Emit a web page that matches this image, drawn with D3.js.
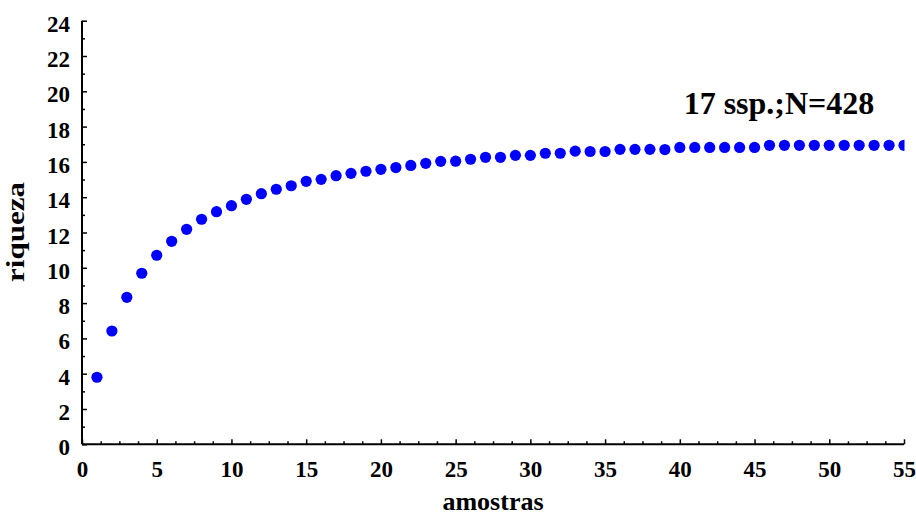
<!DOCTYPE html>
<html>
<head>
<meta charset="utf-8">
<script src="https://cdn.jsdelivr.net/npm/d3@7"></script>
<style>
  html, body { margin: 0; padding: 0; background: #fff; }
  svg { display: block; }
  text { font-family: "Liberation Serif", "Times New Roman", serif; font-weight: bold; fill: #000; }
</style>
</head>
<body>
<svg id="chart" width="916" height="517"></svg>
<script>
// Species accumulation (rarefaction) curve: richness per number of samples
const samples = d3.range(1, 56);
const richness = [
  3.80, 6.42, 8.33, 9.69, 10.71, 11.50, 12.18, 12.75, 13.18, 13.52,
  13.88, 14.20, 14.45, 14.65, 14.90, 15.01, 15.22, 15.35, 15.47, 15.58,
  15.68, 15.80, 15.92, 16.03, 16.04, 16.15, 16.26, 16.26, 16.37, 16.37,
  16.49, 16.49, 16.61, 16.59, 16.59, 16.71, 16.71, 16.71, 16.70, 16.82,
  16.82, 16.82, 16.82, 16.82, 16.82, 16.94, 16.94, 16.94, 16.94, 16.94,
  16.94, 16.94, 16.94, 16.94, 16.94
];
const xMajorTicks = [0, 5, 10, 15, 20, 25, 30, 35, 40, 45, 50, 55];
const xMinorTicks = d3.range(0, 55.01, 1.25).filter(v => v % 5 !== 0);
const yMajorTicks = [0, 2, 4, 6, 8, 10, 12, 14, 16, 18, 20, 22, 24];
const yMinorTicks = d3.range(1, 24, 2);
const xTitle = "amostras";
const yTitle = "riqueza";
const annotation = "17 ssp.;N=428";

const serif = '"Liberation Serif", "Times New Roman", serif';
const svg = d3.select("#chart");
const x = d3.scaleLinear().domain([0, 55]).range([82, 904]);
const y = d3.scaleLinear().domain([0, 24]).range([444.3, 20.7]);

// plot-area clip so the last point is cut at the right edge
svg.append("defs").append("clipPath").attr("id", "plotClip")
  .append("rect")
  .attr("x", x(0)).attr("y", 0)
  .attr("width", x(55) - x(0) + 0.5).attr("height", y(0));

// points
svg.append("g").attr("clip-path", "url(#plotClip)")
  .selectAll("circle")
  .data(samples.map((s, i) => ({ s, r: richness[i] })))
  .join("circle")
  .attr("cx", d => x(d.s))
  .attr("cy", d => y(d.r))
  .attr("r", 5.6)
  .attr("fill", "#0000ff");

// y axis (ticks point inward)
const yAxisG = svg.append("g").attr("transform", `translate(${x(0)},0)`);
yAxisG.call(d3.axisLeft(y).tickValues(yMajorTicks).tickSize(-5).tickPadding(12).tickFormat(d3.format("d")));
yAxisG.append("g").call(d3.axisLeft(y).tickValues(yMinorTicks).tickSize(-3).tickFormat(""))
  .select(".domain").remove();
yAxisG.attr("font-family", serif).attr("font-size", 23).attr("font-weight", "bold");
yAxisG.selectAll(".domain").attr("stroke-width", 2).attr("d", `M0,${y(24)}V${y(0)}`);
yAxisG.selectAll(".tick line").attr("stroke-width", 1.5);
yAxisG.selectAll(".tick text")
  .attr("font-family", serif)
  .attr("font-size", 23)
  .attr("dy", 10.5);

// x axis (ticks point inward)
const xAxisG = svg.append("g").attr("transform", `translate(0,${y(0)})`);
xAxisG.call(d3.axisBottom(x).tickValues(xMajorTicks).tickSize(-5).tickPadding(0).tickFormat(d3.format("d")));
xAxisG.append("g").call(d3.axisBottom(x).tickValues(xMinorTicks).tickSize(-3).tickFormat(""))
  .select(".domain").remove();
xAxisG.attr("font-family", serif).attr("font-size", 23).attr("font-weight", "bold");
xAxisG.selectAll(".domain").attr("stroke-width", 2).attr("d", `M${x(0)},0H${x(55)}`);
xAxisG.selectAll(".tick line").attr("stroke-width", 1.5);
xAxisG.selectAll(".tick text")
  .attr("font-family", serif)
  .attr("font-size", 23)
  .attr("y", 33).attr("dy", 0);

// axis titles
svg.append("text")
  .attr("x", 493).attr("y", 510)
  .attr("text-anchor", "middle")
  .attr("font-size", 26)
  .text(xTitle);

svg.append("text")
  .attr("transform", `translate(24,232) rotate(-90)`)
  .attr("text-anchor", "middle")
  .attr("font-size", 26)
  .attr("textLength", 100)
  .attr("lengthAdjust", "spacingAndGlyphs")
  .text(yTitle);

// annotation
svg.append("text")
  .attr("x", 779).attr("y", 114)
  .attr("text-anchor", "middle")
  .attr("font-size", 32)
  .text(annotation);
</script>
</body>
</html>
